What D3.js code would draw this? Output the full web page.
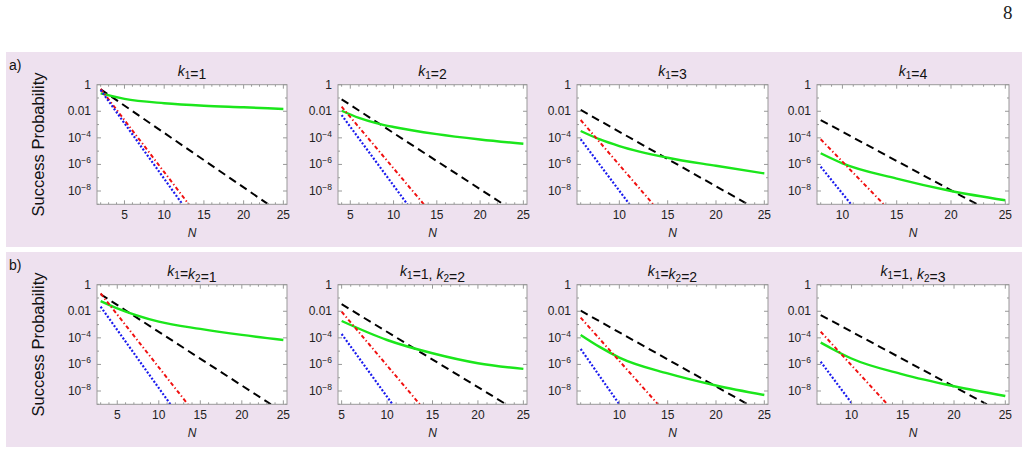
<!DOCTYPE html>
<html>
<head>
<meta charset="utf-8">
<script src="https://cdn.jsdelivr.net/npm/d3@7"></script>
<style>
  body { margin: 0; background: #fff; }
  svg { display: block; font-family: "Liberation Sans", Arial, sans-serif; }
</style>
</head>
<body>
<div id="chart"></div>
<script>
const width = 1029;
const height = 455;

// panel titles, row by row (k_1 means k with subscript 1)
const panelTitles = ["k_1=1", "k_1=2", "k_1=3", "k_1=4",
                     "k_1=k_2=1", "k_1=1, k_2=2", "k_1=k_2=2", "k_1=1, k_2=3"];
const rowLabels = ["a)", "b)"];
const nRange = [[2, 25], [4, 25], [6, 25], [8, 25], [3, 25], [5, 25], [6, 25], [7, 25]];
const yTickValues = [1, 1e-2, 1e-4, 1e-6, 1e-8];

// [N, success probability]
const blackDashed = [
  [[2, 0.45], [23.1, 1e-9]],
  [[4, 7.9e-2], [22.7, 1e-9]],
  [[6, 1.26e-2], [23.3, 1e-9]],
  [[8, 2.2e-3], [22.4, 1e-9]],
  [[3, 0.19], [23.5, 1e-9]],
  [[5, 3.4e-2], [23.1, 1e-9]],
  [[6, 1.1e-2], [23.3, 1e-9]],
  [[7, 5.2e-3], [23.2, 1e-9]]
];
const redDotDashed = [
  [[2, 0.48], [13.1, 1e-9]],
  [[4, 2.2e-2], [13.5, 1e-9]],
  [[6, 2.2e-3], [13.5, 1e-9]],
  [[8, 7.9e-5], [13.8, 1e-9]],
  [[3, 0.22], [13.5, 1e-9]],
  [[5, 9.3e-3], [13.6, 1e-9]],
  [[6, 3.3e-3], [14.0, 1e-9]],
  [[7, 2.9e-4], [13.5, 1e-9]]
];
const blueDotted = [
  [[2, 0.40], [12.3, 1e-9]],
  [[4, 5.2e-3], [11.6, 1e-9]],
  [[6, 7.9e-5], [11.05, 1e-9]],
  [[8, 6.8e-7], [10.8, 1e-9]],
  [[3, 2.2e-2], [11.4, 1e-9]],
  [[5, 1.95e-4], [10.6, 1e-9]],
  [[6, 1.45e-5], [10.0, 1e-9]],
  [[7, 1.6e-6], [10.1, 1e-9]]
];
const greenSolid = [
  [[2, 0.22], [5, 8.5e-2], [10, 4.0e-2], [15, 2.6e-2], [20, 2.0e-2], [25, 1.5e-2]],
  [[4, 1.1e-2], [6, 3.2e-3], [8, 1.3e-3], [10, 6.6e-4], [15, 1.9e-4], [20, 7.6e-5], [25, 3.6e-5]],
  [[6, 3.3e-4], [8, 7.6e-5], [10, 2.4e-5], [15, 3.2e-6], [20, 7.9e-7], [25, 2.1e-7]],
  [[8, 6.9e-6], [10, 1.2e-6], [15, 8.5e-8], [20, 1.0e-8], [25, 2.0e-9]],
  [[3, 5.9e-2], [5, 1.66e-2], [10, 1.66e-3], [15, 4.7e-4], [20, 1.66e-4], [25, 6.9e-5]],
  [[5, 1.86e-3], [10, 6.9e-5], [15, 6.9e-6], [20, 1.23e-6], [25, 4.6e-7]],
  [[6, 1.66e-4], [8, 2.0e-5], [10, 3.3e-6], [15, 2.1e-7], [20, 2.6e-8], [25, 5.0e-9]],
  [[7, 4.4e-5], [8, 1.66e-5], [10, 2.8e-6], [15, 1.8e-7], [20, 2.3e-8], [25, 4.2e-9]]
];

const svg = d3.select("#chart").append("svg")
  .attr("width", width)
  .attr("height", height)
  .attr("viewBox", [0, 0, width, height]);

svg.append("text")
  .attr("x", 1003).attr("y", 19)
  .attr("font-family", "'Liberation Serif', serif")
  .attr("font-size", 19)
  .attr("fill", "#222")
  .text("8");

const rowTop = [52, 252];
const plotLeft = [97, 338, 577, 817];
const plotWidth = [190, 189, 191, 192];
const plotTopOffset = 32.7;
const plotHeight = 119.6;

rowTop.forEach((top, r) => {
  svg.append("rect")
    .attr("x", 6).attr("y", top)
    .attr("width", 1016).attr("height", 195)
    .attr("fill", "#eee1ef");
  svg.append("text")
    .attr("x", 9).attr("y", top + 18)
    .attr("font-size", 14)
    .attr("fill", "#111")
    .text(rowLabels[r]);
  svg.append("text")
    .attr("transform", `translate(44,${top + plotTopOffset + plotHeight / 2}) rotate(-90)`)
    .attr("text-anchor", "middle")
    .attr("font-size", 16.5)
    .attr("fill", "#111")
    .text("Success Probability");
});

const defs = svg.append("defs");

d3.range(8).forEach(i => {
  const r = Math.floor(i / 4), c = i % 4;
  const left = plotLeft[c], w = plotWidth[c];
  const top = rowTop[r] + plotTopOffset;
  const [n0, n1] = nRange[i];
  const pad = (n1 - n0) * 0.02;

  const x = d3.scaleLinear().domain([n0 - pad, n1 + pad]).range([left, left + w]);
  const y = d3.scaleLog().domain([1e-9, 1]).range([top + plotHeight, top]);

  const g = svg.append("g");

  g.append("rect")
    .attr("x", left).attr("y", top)
    .attr("width", w).attr("height", plotHeight)
    .attr("fill", "#fff");

  // title
  const title = g.append("text")
    .attr("x", left + w / 2).attr("y", top - 9)
    .attr("text-anchor", "middle")
    .attr("font-size", 14)
    .attr("fill", "#111");
  panelTitles[i].split(/(k_\d)/).filter(s => s.length).forEach(part => {
    if (part.startsWith("k_")) {
      title.append("tspan").attr("font-style", "italic").text("k");
      title.append("tspan").attr("font-size", 10).attr("dy", 3).text(part.slice(2));
      title.append("tspan").attr("dy", -3).text("");
    } else {
      title.append("tspan").text(part);
    }
  });

  // clip
  defs.append("clipPath").attr("id", "clip" + i)
    .append("rect")
    .attr("x", left).attr("y", top)
    .attr("width", w).attr("height", plotHeight);

  const plot = g.append("g").attr("clip-path", `url(#clip${i})`);
  const straight = d3.line().x(d => x(d[0])).y(d => y(d[1]));
  const smooth = d3.line().x(d => x(d[0])).y(d => y(d[1])).curve(d3.curveMonotoneX);

  plot.append("path")
    .attr("d", straight(blackDashed[i]))
    .attr("fill", "none")
    .attr("stroke", "#000")
    .attr("stroke-width", 2)
    .attr("stroke-dasharray", "8,5");

  plot.append("path")
    .attr("d", smooth(greenSolid[i]))
    .attr("fill", "none")
    .attr("stroke", "#1be61b")
    .attr("stroke-width", 2.4);

  plot.append("path")
    .attr("d", straight(redDotDashed[i]))
    .attr("fill", "none")
    .attr("stroke", "#f01010")
    .attr("stroke-width", 2)
    .attr("stroke-dasharray", "4,2.5,1.3,2.5");

  plot.append("path")
    .attr("d", straight(blueDotted[i]))
    .attr("fill", "none")
    .attr("stroke", "#1a1aee")
    .attr("stroke-width", 2.2)
    .attr("stroke-dasharray", "2,1.8");

  // frame + ticks
  const tickColor = "#999";
  const xs = x.domain();
  const minor = d3.range(Math.ceil(xs[0]), Math.floor(xs[1]) + 1);
  minor.forEach(n => {
    const len = n % 5 === 0 ? 4 : 2;
    g.append("line").attr("x1", x(n)).attr("x2", x(n))
      .attr("y1", top + plotHeight).attr("y2", top + plotHeight - len)
      .attr("stroke", tickColor);
    g.append("line").attr("x1", x(n)).attr("x2", x(n))
      .attr("y1", top).attr("y2", top + len)
      .attr("stroke", tickColor);
  });
  d3.range(-9, 1).forEach(e => {
    const len = e % 2 === 0 ? 4 : 2;
    const yy = y(Math.pow(10, e));
    g.append("line").attr("x1", left).attr("x2", left + len)
      .attr("y1", yy).attr("y2", yy).attr("stroke", tickColor);
    g.append("line").attr("x1", left + w).attr("x2", left + w - len)
      .attr("y1", yy).attr("y2", yy).attr("stroke", tickColor);
  });

  g.append("rect")
    .attr("x", left).attr("y", top)
    .attr("width", w).attr("height", plotHeight)
    .attr("fill", "none")
    .attr("stroke", tickColor)
    .attr("stroke-width", 1);

  // x tick labels
  const xTicks = d3.range(5, 26, 5).filter(n => n >= xs[0] && n <= xs[1]);
  g.selectAll(".xl").data(xTicks).join("text")
    .attr("x", d => x(d)).attr("y", top + plotHeight + 15)
    .attr("text-anchor", "middle")
    .attr("font-size", 12)
    .attr("fill", "#222")
    .text(d => d);

  g.append("text")
    .attr("x", left + w / 2).attr("y", top + plotHeight + 33)
    .attr("text-anchor", "middle")
    .attr("font-size", 12)
    .attr("font-style", "italic")
    .attr("fill", "#222")
    .text("N");

  // y tick labels
  yTickValues.forEach(v => {
    const t = g.append("text")
      .attr("x", left - 6).attr("y", y(v) + 4)
      .attr("text-anchor", "end")
      .attr("font-size", 12)
      .attr("fill", "#222");
    const e = Math.round(Math.log10(v));
    if (e === 0) t.text("1");
    else if (e === -2) t.text("0.01");
    else {
      t.append("tspan").text("10");
      t.append("tspan").attr("font-size", 8.5).attr("dy", -5).text("\u2212" + (-e));
    }
  });
});
</script>
</body>
</html>
